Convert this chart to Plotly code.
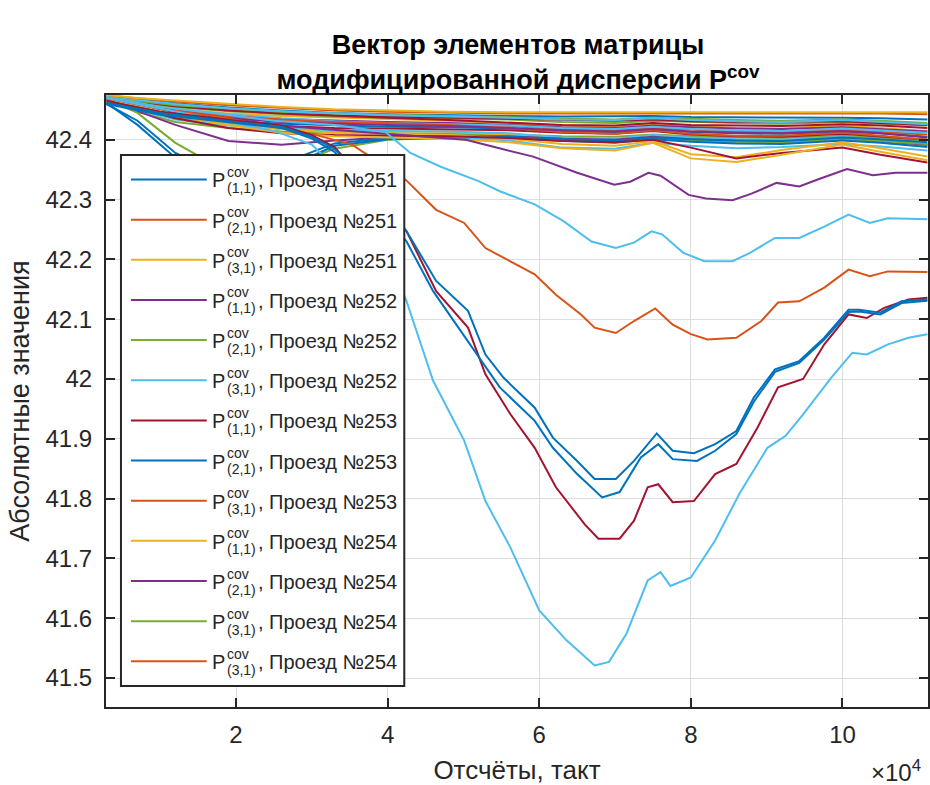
import plotly.graph_objects as go

# ---------------- data ----------------
C_BLUE, C_ORANGE, C_YELLOW, C_PURPLE = "#0072BD", "#D95319", "#EDB120", "#7E2F8E"
C_GREEN, C_LBLUE, C_RED = "#77AC30", "#4DBEEE", "#A2142F"

# Distinct deep curves
X_LB_DEEP = [2900, 10000, 18000, 25000, 30000, 35000, 40000, 42500, 46000, 50100, 52900, 56200, 60000,
             63600, 67300, 69200, 71500, 74300, 76000, 77300, 80000, 83200, 86400, 90100, 92500, 94800,
             98500, 101300, 103200, 106000, 108700, 111200]
Y_LB_DEEP = [42.470, 42.452, 42.432, 42.415, 42.392, 42.330, 42.210, 42.130, 41.997, 41.897, 41.796, 41.718,
             41.613, 41.563, 41.521, 41.527, 41.574, 41.663, 41.677, 41.654, 41.668, 41.730, 41.808, 41.885,
             41.905, 41.941, 42.002, 42.044, 42.041, 42.058, 42.069, 42.075]

X_BLUE_UP = [2900, 10000, 20000, 26000, 30000, 33000, 38000, 42500, 46400, 50600, 52900, 55300, 59400, 61800,
             65000, 67300, 70100, 72500, 75500, 77600, 80400, 83200, 86000, 88300, 91100, 94300, 97600,
             100800, 102200, 105000, 107800, 111200]
Y_BLUE_UP = [42.462, 42.445, 42.430, 42.422, 42.405, 42.385, 42.318, 42.247, 42.164, 42.114, 42.041, 42.002,
             41.952, 41.902, 41.863, 41.833, 41.833, 41.863, 41.909, 41.880, 41.876, 41.891, 41.913, 41.969,
             42.016, 42.030, 42.069, 42.116, 42.116, 42.111, 42.130, 42.133]

X_BLUE_LO = [2900, 10000, 20000, 26000, 30000, 33000, 38000, 42500, 46000, 52000, 54800, 59400, 61800, 65000,
             68300, 70600, 73400, 75700, 77600, 80800, 83200, 86000, 88300, 91100, 94300, 97600, 100800,
             102200, 105000, 107800, 111200]
Y_BLUE_LO = [42.460, 42.442, 42.428, 42.420, 42.402, 42.380, 42.305, 42.230, 42.147, 42.036, 41.986, 41.930,
             41.885, 41.841, 41.802, 41.811, 41.869, 41.891, 41.866, 41.863, 41.880, 41.908, 41.962, 42.012,
             42.027, 42.066, 42.112, 42.113, 42.108, 42.127, 42.131]

X_RED_DEEP = [2900, 10000, 20000, 26000, 30000, 33000, 38000, 42500, 46400, 50600, 52900, 56200, 59400, 62200,
              66000, 67800, 70600, 72500, 74300, 75700, 77600, 80400, 83200, 86000, 88800, 91500, 94800,
              97600, 100800, 103200, 105500, 108700, 111200]
Y_RED_DEEP = [42.465, 42.447, 42.432, 42.424, 42.408, 42.388, 42.315, 42.247, 42.147, 42.086, 42.008, 41.941,
              41.885, 41.819, 41.757, 41.733, 41.733, 41.763, 41.819, 41.824, 41.794, 41.796, 41.841, 41.858,
              41.919, 41.986, 42.000, 42.058, 42.108, 42.102, 42.119, 42.133, 42.136]

X_ORANGE = [2900, 10000, 18000, 25000, 30000, 35300, 42400, 46400, 50100, 52900, 59400, 62200, 65500, 67300,
            70100, 72500, 75300, 77600, 80000, 82200, 86000, 89300, 91500, 94300, 97600, 100800, 103600,
            106000, 111200]
Y_ORANGE = [42.470, 42.452, 42.438, 42.422, 42.410, 42.392, 42.333, 42.283, 42.261, 42.219, 42.175, 42.141,
            42.108, 42.086, 42.077, 42.097, 42.118, 42.091, 42.075, 42.066, 42.069, 42.097, 42.128, 42.130,
            42.153, 42.183, 42.172, 42.180, 42.179]

X_LB_UP = [2900, 10000, 18000, 25000, 33000, 39700, 43000, 47000, 52000, 54800, 59400, 63200, 66900, 70100,
           72500, 74800, 76200, 79000, 81800, 85500, 87800, 91100, 94300, 97600, 100800, 103600, 106000, 111200]
Y_LB_UP = [42.472, 42.455, 42.443, 42.432, 42.425, 42.413, 42.378, 42.355, 42.331, 42.314, 42.292, 42.264,
           42.230, 42.219, 42.228, 42.247, 42.242, 42.211, 42.197, 42.197, 42.211, 42.236, 42.236, 42.255,
           42.275, 42.261, 42.269, 42.267]

X_PURPLE = [2900, 10000, 18000, 25000, 35000, 45000, 50300, 55000, 59200, 65000, 69900, 72000, 74400, 76000,
            79700, 82000, 85500, 88000, 91300, 94300, 97000, 100600, 104000, 107000, 111200]
Y_PURPLE = [42.470, 42.452, 42.438, 42.425, 42.415, 42.405, 42.400, 42.385, 42.372, 42.345, 42.325, 42.330,
            42.345, 42.340, 42.308, 42.302, 42.299, 42.310, 42.328, 42.322, 42.335, 42.351, 42.341, 42.345,
            42.345]

# Dense bundle of curves near the top (common sample grid)
X_BUNDLE = [2900, 7000, 12000, 19000, 26000, 33000, 40000, 48000, 56000, 63000, 70000, 75000, 80000, 86000,
            92000, 100000, 105000, 111200]
B01 = [42.475, 42.470, 42.466, 42.460, 42.455, 42.451, 42.449, 42.447, 42.446, 42.446, 42.446, 42.446, 42.446, 42.446, 42.446, 42.446, 42.446, 42.446]
B02 = [42.474, 42.469, 42.464, 42.458, 42.453, 42.449, 42.447, 42.445, 42.444, 42.444, 42.444, 42.445, 42.444, 42.444, 42.444, 42.444, 42.444, 42.443]
B03 = [42.473, 42.467, 42.461, 42.454, 42.449, 42.445, 42.443, 42.441, 42.440, 42.439, 42.439, 42.440, 42.438, 42.438, 42.437, 42.437, 42.436, 42.434]
B04 = [42.472, 42.465, 42.458, 42.450, 42.445, 42.441, 42.439, 42.437, 42.435, 42.433, 42.432, 42.434, 42.431, 42.430, 42.430, 42.431, 42.428, 42.425]
B05 = [42.471, 42.463, 42.455, 42.448, 42.443, 42.439, 42.437, 42.436, 42.434, 42.430, 42.428, 42.432, 42.430, 42.428, 42.427, 42.430, 42.427, 42.424]
B06 = [42.472, 42.462, 42.452, 42.443, 42.436, 42.431, 42.428, 42.426, 42.424, 42.420, 42.418, 42.422, 42.418, 42.416, 42.415, 42.419, 42.416, 42.412]
B07 = [42.470, 42.460, 42.450, 42.441, 42.435, 42.432, 42.430, 42.428, 42.425, 42.421, 42.420, 42.424, 42.421, 42.419, 42.418, 42.421, 42.418, 42.414]
B08 = [42.471, 42.461, 42.451, 42.444, 42.440, 42.437, 42.435, 42.432, 42.428, 42.424, 42.422, 42.427, 42.423, 42.420, 42.419, 42.424, 42.420, 42.415]
B09 = [42.470, 42.458, 42.447, 42.438, 42.433, 42.430, 42.428, 42.426, 42.423, 42.418, 42.416, 42.420, 42.417, 42.414, 42.413, 42.417, 42.413, 42.409]
B10 = [42.469, 42.455, 42.442, 42.432, 42.427, 42.424, 42.422, 42.421, 42.419, 42.415, 42.413, 42.418, 42.413, 42.411, 42.410, 42.414, 42.411, 42.405]
B11 = [42.468, 42.452, 42.438, 42.428, 42.423, 42.420, 42.419, 42.418, 42.416, 42.412, 42.410, 42.415, 42.409, 42.406, 42.405, 42.410, 42.406, 42.400]
B12 = [42.468, 42.450, 42.434, 42.424, 42.419, 42.416, 42.415, 42.414, 42.411, 42.404, 42.402, 42.408, 42.404, 42.401, 42.400, 42.405, 42.400, 42.392]
B13 = [42.469, 42.452, 42.436, 42.426, 42.420, 42.417, 42.415, 42.413, 42.409, 42.400, 42.397, 42.404, 42.399, 42.397, 42.396, 42.402, 42.397, 42.390]
B14 = [42.467, 42.447, 42.430, 42.420, 42.414, 42.412, 42.411, 42.410, 42.409, 42.406, 42.405, 42.409, 42.406, 42.404, 42.403, 42.407, 42.404, 42.399]
B15 = [42.460, 42.432, 42.378, 42.335, 42.360, 42.394, 42.403, 42.405, 42.405, 42.401, 42.398, 42.404, 42.401, 42.399, 42.398, 42.404, 42.401, 42.396]
B16 = [42.462, 42.425, 42.370, 42.325, 42.350, 42.390, 42.401, 42.403, 42.402, 42.398, 42.395, 42.401, 42.397, 42.394, 42.393, 42.399, 42.395, 42.388]
B17 = [42.468, 42.445, 42.395, 42.345, 42.352, 42.385, 42.400, 42.404, 42.404, 42.400, 42.397, 42.403, 42.399, 42.397, 42.396, 42.402, 42.398, 42.393]
B18 = [42.470, 42.448, 42.425, 42.398, 42.392, 42.399, 42.404, 42.406, 42.406, 42.402, 42.400, 42.405, 42.401, 42.398, 42.397, 42.402, 42.398, 42.392]
B19 = [42.470, 42.455, 42.440, 42.425, 42.412, 42.406, 42.404, 42.402, 42.396, 42.386, 42.382, 42.395, 42.369, 42.363, 42.375, 42.392, 42.380, 42.366]
B20 = [42.469, 42.453, 42.436, 42.420, 42.411, 42.408, 42.407, 42.406, 42.403, 42.398, 42.396, 42.400, 42.387, 42.369, 42.378, 42.387, 42.375, 42.362]
B21 = [42.471, 42.457, 42.442, 42.428, 42.418, 42.412, 42.410, 42.408, 42.402, 42.393, 42.390, 42.398, 42.376, 42.371, 42.383, 42.396, 42.386, 42.372]
B22 = [42.470, 42.456, 42.440, 42.427, 42.418, 42.413, 42.410, 42.406, 42.399, 42.387, 42.385, 42.395, 42.390, 42.386, 42.388, 42.393, 42.389, 42.382]
B23 = [42.472, 42.460, 42.449, 42.440, 42.434, 42.430, 42.428, 42.425, 42.420, 42.413, 42.410, 42.416, 42.410, 42.407, 42.407, 42.412, 42.407, 42.400]
B24 = [42.471, 42.459, 42.446, 42.436, 42.430, 42.427, 42.425, 42.423, 42.420, 42.416, 42.414, 42.418, 42.414, 42.412, 42.411, 42.415, 42.411, 42.404]
B25 = [42.473, 42.464, 42.456, 42.449, 42.444, 42.440, 42.437, 42.433, 42.429, 42.425, 42.424, 42.428, 42.425, 42.424, 42.423, 42.426, 42.424, 42.420]
B26 = [42.473, 42.465, 42.458, 42.452, 42.447, 42.444, 42.442, 42.440, 42.438, 42.435, 42.434, 42.437, 42.435, 42.433, 42.432, 42.434, 42.432, 42.428]
B27 = [42.474, 42.467, 42.460, 42.453, 42.448, 42.444, 42.441, 42.439, 42.437, 42.434, 42.433, 42.436, 42.433, 42.431, 42.430, 42.433, 42.430, 42.426]

BUNDLE = [
    (B14, C_GREEN), (B13, C_YELLOW), (B12, C_LBLUE), (B11, C_RED), (B10, C_BLUE), (B09, C_ORANGE),
    (B08, C_YELLOW), (B07, C_PURPLE), (B06, C_LBLUE), (B05, C_GREEN), (B04, C_RED), (B03, C_BLUE),
    (B23, C_ORANGE), (B24, C_PURPLE), (B25, C_RED), (B26, C_GREEN), (B27, C_LBLUE),
    (B02, C_ORANGE), (B01, C_YELLOW),
    (B18, C_PURPLE), (B17, C_GREEN), (B16, C_BLUE), (B15, C_BLUE),
    (B22, C_LBLUE), (B21, C_YELLOW), (B20, C_RED), (B19, C_YELLOW),
]

DEEP = [
    (X_PURPLE, Y_PURPLE, C_PURPLE), (X_LB_UP, Y_LB_UP, C_LBLUE), (X_ORANGE, Y_ORANGE, C_ORANGE),
    (X_LB_DEEP, Y_LB_DEEP, C_LBLUE), (X_RED_DEEP, Y_RED_DEEP, C_RED),
    (X_BLUE_LO, Y_BLUE_LO, C_BLUE), (X_BLUE_UP, Y_BLUE_UP, C_BLUE),
]

# Legend content
LEG_COLORS = [C_BLUE, C_ORANGE, C_YELLOW, C_PURPLE, C_GREEN, C_LBLUE, C_RED, C_BLUE, C_ORANGE,
              C_YELLOW, C_PURPLE, C_GREEN, C_ORANGE]
LEG_SUB = ["(1,1)", "(2,1)", "(3,1)", "(1,1)", "(2,1)", "(3,1)", "(1,1)", "(2,1)", "(3,1)",
           "(1,1)", "(2,1)", "(3,1)", "(3,1)"]
LEG_PASS = ["251", "251", "251", "252", "252", "252", "253", "253", "253", "254", "254", "254", "254"]

X_TICKS = [20000, 40000, 60000, 80000, 100000]
X_TICK_TEXT = ["2", "4", "6", "8", "10"]
Y_TICKS = [41.5, 41.6, 41.7, 41.8, 41.9, 42.0, 42.1, 42.2, 42.3, 42.4]
Y_TICK_TEXT = ["41.5", "41.6", "41.7", "41.8", "41.9", "42", "42.1", "42.2", "42.3", "42.4"]

# ---------------- figure ----------------
FONT = "Liberation Sans, Arial, sans-serif"
TXT = "#262626"
W, H = 930, 785
L, R, T, B = 106, 930, 95, 707

fig = go.Figure()
for ys, col in BUNDLE:
    fig.add_trace(go.Scatter(x=X_BUNDLE, y=ys, mode="lines", line=dict(color=col, width=2),
                             showlegend=False, hoverinfo="skip"))
for xs, ys, col in DEEP:
    fig.add_trace(go.Scatter(x=xs, y=ys, mode="lines", line=dict(color=col, width=2),
                             showlegend=False, hoverinfo="skip"))


def px(xp):
    return (xp - L) / (R - L)


def py(yp):
    return (B - yp) / (B - T)


shapes = [dict(type="rect", xref="paper", yref="paper", x0=px(121), x1=px(405), y0=py(686), y1=py(155),
               line=dict(color=TXT, width=2), fillcolor="white", layer="above")]
annotations = []
for i, (col, sub, pas) in enumerate(zip(LEG_COLORS, LEG_SUB, LEG_PASS)):
    ly = 179.5 + 40.15 * i
    shapes.append(dict(type="line", xref="paper", yref="paper", x0=px(131), x1=px(207), y0=py(ly), y1=py(ly),
                       line=dict(color=col, width=2), layer="above"))
    annotations += [
        dict(text="P", x=px(210), y=py(ly + 1), xref="paper", yref="paper", xanchor="left", yanchor="middle",
             showarrow=False, font=dict(family=FONT, size=20, color=TXT)),
        dict(text="cov", x=px(225.5), y=py(ly - 7.5), xref="paper", yref="paper", xanchor="left",
             yanchor="middle", showarrow=False, font=dict(family=FONT, size=14, color=TXT)),
        dict(text=sub, x=px(225.5), y=py(ly + 8.5), xref="paper", yref="paper", xanchor="left",
             yanchor="middle", showarrow=False, font=dict(family=FONT, size=14, color=TXT)),
        dict(text=", Проезд №" + pas, x=px(256), y=py(ly + 1), xref="paper", yref="paper", xanchor="left",
             yanchor="middle", showarrow=False, font=dict(family=FONT, size=20, color=TXT)),
    ]

annotations.append(dict(text="×10<sup>4</sup>", x=px(925), y=py(771), xref="paper", yref="paper",
                        xanchor="right", yanchor="middle", showarrow=False,
                        font=dict(family=FONT, size=24, color=TXT)))

fig.update_layout(
    width=W, height=H,
    margin=dict(l=L, r=W - R, t=T, b=H - B, pad=0),
    paper_bgcolor="white", plot_bgcolor="white",
    font=dict(family=FONT, color=TXT),
    title=dict(text="<b>Вектор элементов матрицы<br>модифицированной дисперсии P<sup>cov</sup></b>",
               x=518 / W, xref="container", xanchor="center", y=1 - 54 / H, yanchor="top", yref="container",
               font=dict(family=FONT, size=27, color="#000000")),
    shapes=shapes, annotations=annotations,
    xaxis=dict(range=[2850, 111280], tickvals=X_TICKS, ticktext=X_TICK_TEXT,
               ticks="inside", ticklen=9, tickwidth=1.5, tickcolor=TXT,
               showline=True, linecolor=TXT, linewidth=2, mirror="ticks",
               showgrid=True, gridcolor="#DEDEDE", gridwidth=1, zeroline=False,
               ticklabelstandoff=5,
               tickfont=dict(family=FONT, size=24, color=TXT),
               title=dict(text="Отсчёты, такт", font=dict(family=FONT, size=26, color=TXT), standoff=14)),
    yaxis=dict(range=[41.4515, 42.475], tickvals=Y_TICKS, ticktext=Y_TICK_TEXT,
               ticks="inside", ticklen=9, tickwidth=1.5, tickcolor=TXT,
               showline=True, linecolor=TXT, linewidth=2, mirror="ticks",
               showgrid=True, gridcolor="#DEDEDE", gridwidth=1, zeroline=False,
               ticklabelstandoff=7,
               tickfont=dict(family=FONT, size=24, color=TXT),
               title=dict(text="Абсолютные значения", font=dict(family=FONT, size=27, color=TXT), standoff=8)),
)

fig.write_html("out.html")
